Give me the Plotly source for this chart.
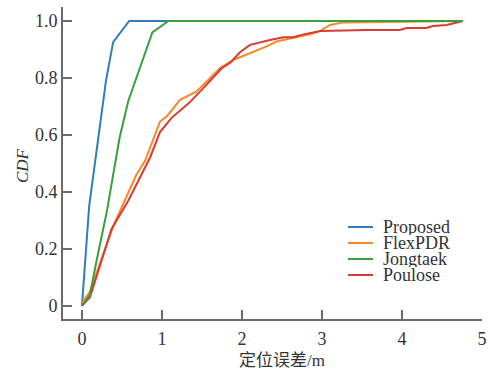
import plotly.graph_objects as go

# ---- data ----
proposed_x = [0, 0.09, 0.30, 0.39, 0.59, 4.76]
proposed_y = [0, 0.35, 0.79, 0.926, 1.0, 1.0]

flexpdr_x = [0, 0.10, 0.39, 0.68, 0.79, 0.975, 1.06, 1.225, 1.43, 1.725, 1.89, 1.975, 2.14, 2.30,
             2.43, 2.64, 2.85, 2.98, 3.10, 3.27, 3.70, 4.76]
flexpdr_y = [0.01, 0.05, 0.28, 0.46, 0.51, 0.647, 0.665, 0.723, 0.752, 0.835, 0.863, 0.873, 0.89, 0.91,
             0.928, 0.94, 0.953, 0.965, 0.986, 0.995, 0.997, 1.0]

jongtaek_x = [0, 0.10, 0.18, 0.31, 0.47, 0.58, 0.88, 1.08, 4.76]
jongtaek_y = [0, 0.04, 0.155, 0.33, 0.59, 0.72, 0.96, 1.0, 1.0]

poulose_x = [0, 0.10, 0.37, 0.58, 0.85, 0.975, 1.12, 1.33, 1.475, 1.75, 1.85, 1.975, 2.10, 2.22,
             2.35, 2.52, 2.64, 2.77, 2.98, 3.56, 3.97, 4.06, 4.30, 4.39, 4.56, 4.76]
poulose_y = [0, 0.03, 0.27, 0.37, 0.52, 0.61, 0.66, 0.71, 0.752, 0.835, 0.853, 0.89, 0.916, 0.925,
             0.933, 0.943, 0.943, 0.953, 0.965, 0.968, 0.968, 0.975, 0.975, 0.982, 0.986, 1.0]

series_names = ["Proposed", "FlexPDR", "Jongtaek", "Poulose"]
series_x = [proposed_x, flexpdr_x, jongtaek_x, poulose_x]
series_y = [proposed_y, flexpdr_y, jongtaek_y, poulose_y]
series_colors = ["#2f7dbd", "#f7892a", "#3a9e3e", "#d93a33"]

y_ticks = [0, 0.2, 0.4, 0.6, 0.8, 1.0, 1.048]
y_labels = ["0", "0.2", "0.4", "0.6", "0.8", "1.0", ""]
x_ticks = [0, 1, 2, 3, 4, 5]

FONT = "'Liberation Serif', 'Times New Roman', 'Noto Sans CJK SC', serif"
TXT = "#333333"

# plot area in pixels
W, H = 490, 372
L, R, T, B = 63, 8, 7, 53
PW, PH = W - L - R, H - T - B


def px(xp):
    return (xp - L) / PW


def py(yp):
    return (H - B - yp) / PH


fig = go.Figure()
for i in [0, 1, 3, 2]:
    fig.add_trace(go.Scatter(x=series_x[i], y=series_y[i], mode="lines", name=series_names[i],
                             line=dict(color=series_colors[i], width=2), showlegend=False,
                             hoverinfo="skip"))

axis_common = dict(showline=True, linecolor="#6b6b6b", linewidth=2, ticks="inside",
                   tickcolor="#6b6b6b", tickwidth=2, ticklen=9, showgrid=False, zeroline=False,
                   tickfont=dict(family=FONT, size=18, color=TXT), automargin=False)

# legend drawn as shapes + annotations (tight row spacing like the reference)
shapes, annotations = [], []
row_y = [227, 243, 259, 275]
for name, col, ry in zip(series_names, series_colors, row_y):
    shapes.append(dict(type="line", xref="paper", yref="paper", x0=px(348), x1=px(373),
                       y0=py(ry), y1=py(ry), line=dict(color=col, width=2)))
    annotations.append(dict(text=name, xref="paper", yref="paper", x=px(381), y=py(ry),
                            xanchor="left", yanchor="middle", showarrow=False, height=16,
                            font=dict(family=FONT, size=18, color=TXT)))

annotations.append(dict(text="定位误差/m", xref="paper", yref="paper", x=px(282), y=py(360),
                        xanchor="center", yanchor="middle", showarrow=False,
                        font=dict(family=FONT, size=17, color=TXT)))
annotations.append(dict(text="<i>CDF</i>", xref="paper", yref="paper", x=px(22), y=py(166),
                        xanchor="center", yanchor="middle", showarrow=False, textangle=-90,
                        font=dict(family=FONT, size=17, color=TXT)))

fig.update_layout(
    width=W, height=H,
    margin=dict(l=L, r=R, t=T, b=B),
    paper_bgcolor="white", plot_bgcolor="white",
    font=dict(family=FONT, color=TXT),
    xaxis=dict(range=[-0.237, 5.0], tickvals=x_ticks, ticktext=[str(v) for v in x_ticks],
               ticklabelstandoff=2, **axis_common),
    yaxis=dict(range=[-0.046, 1.049], tickvals=y_ticks, ticktext=y_labels, **axis_common),
    shapes=shapes, annotations=annotations,
    showlegend=False,
)

fig.write_html("out.html", config={"displayModeBar": False, "staticPlot": True},
               post_script="document.body.style.margin='0';document.body.style.overflow='hidden';")
